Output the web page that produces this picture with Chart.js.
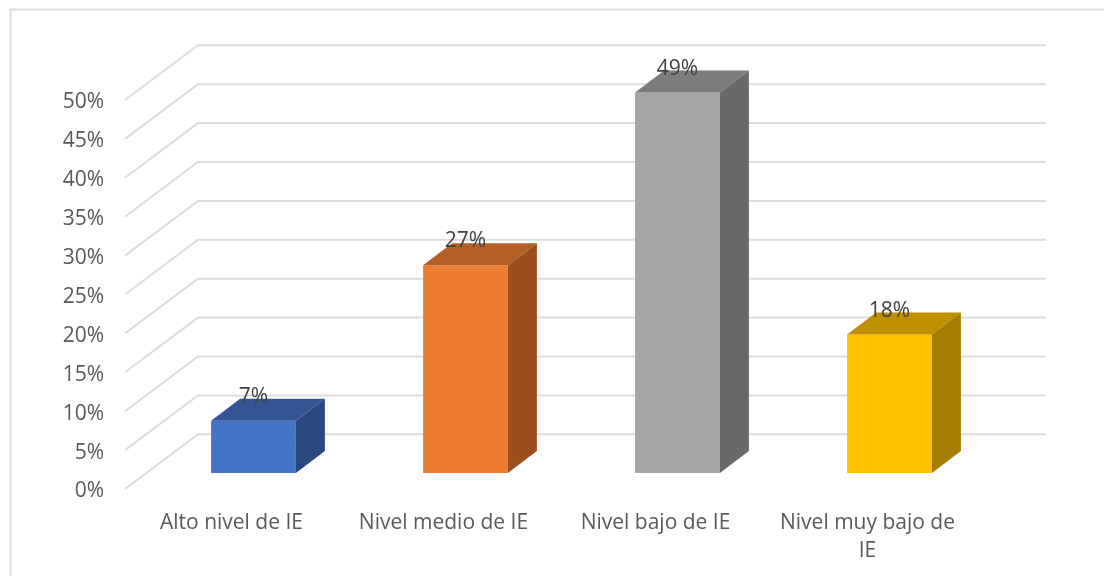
<!DOCTYPE html>
<html>
<head>
<meta charset="utf-8">
<script src="https://cdn.jsdelivr.net/npm/chart.js@4"></script>
<style>
  html, body { margin: 0; padding: 0; background: #fff; overflow: hidden; }
  canvas { display: block; }
</style>
</head>
<body>
<canvas id="chart" width="1104" height="576"></canvas>
<script>
const categories = ['Alto nivel de IE', 'Nivel medio de IE', 'Nivel bajo de IE', ['Nivel muy bajo de', 'IE']];
const shares = [6.7, 26.7, 48.9, 17.8];
const axisMax = 50;
const axisStep = 5;

const frontColors = ['#4472C4', '#ED7D31', '#A5A5A5', '#FFC000'];
const topColors = ['#335593', '#B25E25', '#7C7C7C', '#BF9000'];
const sideColors = ['#2A4880', '#9C4F1C', '#696969', '#A37E00'];

const FONT = 'Open Sans';
const GRID = '#DDDDDD';

// fake 3D: how far the back of a bar sits from its front
const barDepth = { x: 29, y: -22 };
// back wall and side wall offsets from the y scale pixel
const wall = { backX: 198, backShift: -38.7, frontX: 125, frontShift: 16 };

// outer frame + the walls behind the bars
const wallsPlugin = {
    id: 'walls',
    beforeDatasetsDraw(chart) {
        const ctx = chart.ctx;
        const y = chart.scales.y;
        ctx.save();
        ctx.strokeStyle = GRID;
        ctx.lineWidth = 2;
        ctx.beginPath();
        ctx.moveTo(10.5, 576);
        ctx.lineTo(10.5, 9.5);
        ctx.lineTo(1104, 9.5);
        ctx.stroke();
        y.ticks.forEach(tick => {
            const py = y.getPixelForValue(tick.value);
            ctx.beginPath();
            ctx.moveTo(wall.frontX, py + wall.frontShift);
            ctx.lineTo(wall.backX, py + wall.backShift);
            ctx.lineTo(1046, py + wall.backShift);
            ctx.stroke();
        });
        ctx.restore();
    }
};

// top and side faces of every bar, plus the value labels
const facesPlugin = {
    id: 'faces',
    afterDatasetsDraw(chart) {
        const ctx = chart.ctx;
        const bars = chart.getDatasetMeta(0).data;
        ctx.save();
        bars.forEach((bar, i) => {
            const left = bar.x - bar.width / 2;
            const right = bar.x + bar.width / 2;
            ctx.fillStyle = topColors[i];
            ctx.beginPath();
            ctx.moveTo(left, bar.y);
            ctx.lineTo(left + barDepth.x, bar.y + barDepth.y);
            ctx.lineTo(right + barDepth.x, bar.y + barDepth.y);
            ctx.lineTo(right, bar.y);
            ctx.closePath();
            ctx.fill();
            ctx.fillStyle = sideColors[i];
            ctx.beginPath();
            ctx.moveTo(right, bar.y);
            ctx.lineTo(right + barDepth.x, bar.y + barDepth.y);
            ctx.lineTo(right + barDepth.x, bar.base + barDepth.y);
            ctx.lineTo(right, bar.base);
            ctx.closePath();
            ctx.fill();
        });
        ctx.fillStyle = '#404040';
        ctx.font = '21px "' + FONT + '"';
        ctx.textAlign = 'center';
        ctx.textBaseline = 'middle';
        bars.forEach((bar, i) => {
            ctx.fillText(Math.round(shares[i]) + '%', bar.x, bar.y - 24);
        });
        ctx.restore();
    }
};

new Chart(document.getElementById('chart'), {
    type: 'bar',
    data: {
        labels: categories,
        datasets: [{
            data: shares,
            backgroundColor: frontColors,
            categoryPercentage: 0.4,
            barPercentage: 1
        }]
    },
    options: {
        responsive: false,
        animation: false,
        layout: { padding: { top: 84, right: 108.5, left: 0, bottom: 0 } },
        plugins: { legend: { display: false }, tooltip: { enabled: false } },
        scales: {
            x: {
                grid: { display: false, drawTicks: false },
                border: { display: false },
                afterFit(scale) { scale.height = 103; },
                ticks: {
                    maxRotation: 0,
                    autoSkip: false,
                    padding: 36,
                    labelOffset: -22,
                    color: '#595959',
                    font: { family: FONT, size: 21, lineHeight: 1.33 }
                }
            },
            y: {
                min: 0,
                max: axisMax,
                grid: { display: false, drawTicks: false },
                border: { display: false },
                afterFit(scale) { scale.width = 147.5; },
                ticks: {
                    stepSize: axisStep,
                    padding: 43.5,
                    labelOffset: 18.5,
                    color: '#595959',
                    font: { family: FONT, size: 21 },
                    callback: v => v + '%'
                }
            }
        }
    },
    plugins: [wallsPlugin, facesPlugin]
});
</script>
</body>
</html>
